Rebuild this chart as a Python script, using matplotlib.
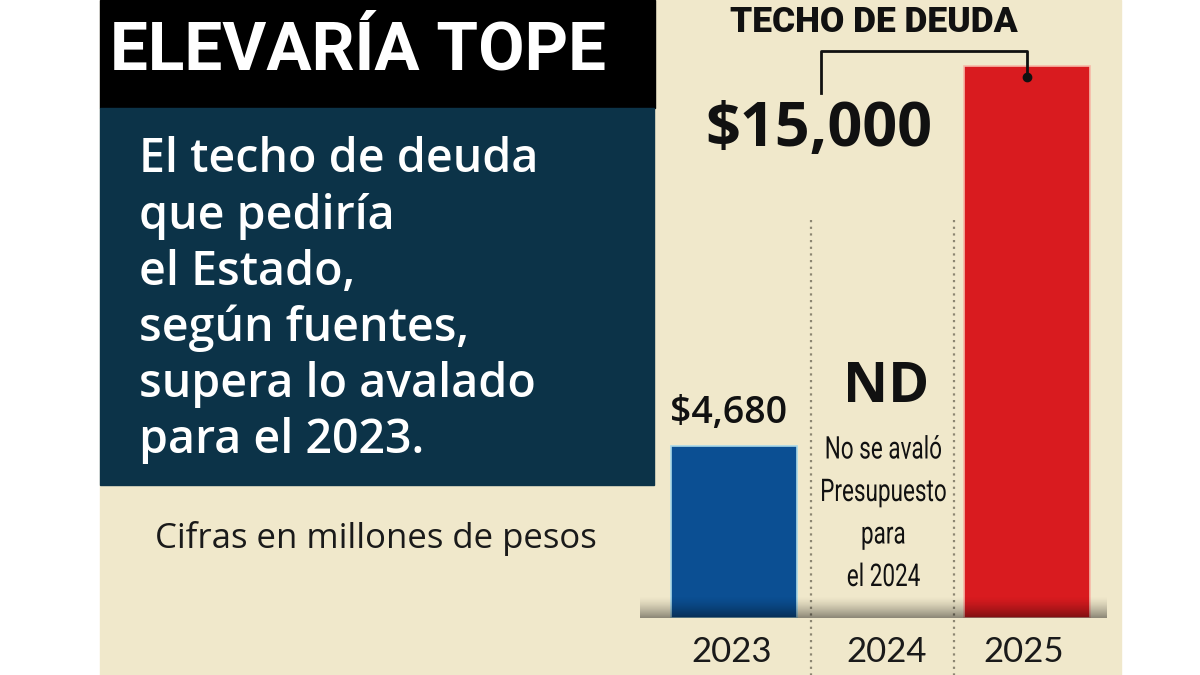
import numpy as np
import matplotlib
matplotlib.use('Agg')
import matplotlib.pyplot as plt
from matplotlib.patches import Rectangle
import matplotlib.transforms as mtransforms
from matplotlib import patheffects

# Data (millones de pesos)
years = ['2023', '2024', '2025']
values = [4680, np.nan, 15000]
value_labels = ['$4,680', '', '$15,000']
bar_colors = ['#0b4f93', '#ffffff', '#d91b1f']

title = 'ELEVARÍA TOPE'
body_lines = ['El techo de deuda', 'que pediría', 'el Estado,',
              'según fuentes,', 'supera lo avalado', 'para el 2023.']
note_lines = ['No se avaló', 'Presupuesto', 'para', 'el 2024']
units = 'Cifras en millones de pesos'

beige = '#f0e8cb'
teal = '#0c3348'
W, H = 1200, 675


class Squeeze(patheffects.AbstractPathEffect):
    """Narrow the glyphs horizontally (condensed look)."""
    def __init__(self, sx):
        super().__init__()
        self.sx = sx

    def draw_path(self, renderer, gc, tpath, affine, rgbFace=None):
        verts = affine.transform(tpath.vertices)
        cx = (verts[:, 0].min() + verts[:, 0].max()) / 2
        aff = affine + mtransforms.Affine2D().translate(-cx, 0).scale(self.sx, 1).translate(cx, 0)
        renderer.draw_path(gc, tpath, aff, rgbFace)


fig = plt.figure(figsize=(12, 6.75), dpi=100, facecolor='white')

# background / decoration axes in pixel coords
bg = fig.add_axes([0, 0, 1, 1])
bg.set_xlim(0, W)
bg.set_ylim(H, 0)
bg.axis('off')
bg.add_patch(Rectangle((100, 0), 1021, H, color=beige, zorder=0))
bg.add_patch(Rectangle((100, 0), 555, 108, color='black', zorder=1))
bg.add_patch(Rectangle((100, 108), 554, 377, color=teal, zorder=1))

bg.text(110, 52, title, color='white', fontsize=48.5, fontweight='bold',
        family=['Roboto', 'DejaVu Sans'], va='center', ha='left')
for i, line in enumerate(body_lines):
    bg.text(139, 160 + i * 56.2, line, color='white', fontsize=33.5,
            fontweight='semibold', family=['Open Sans', 'DejaVu Sans'],
            va='center', ha='left')
bg.text(155, 538, units, color='#1a1a1a', fontsize=25,
        family=['Open Sans', 'DejaVu Sans'], va='center', ha='left')

# bar axes: baseline at y=618px, 15000 at y=66px
base_px, top_px = 618, 66
scale = 15000 / (base_px - top_px)
ax = fig.add_axes([640 / W, (H - base_px) / H, (1107 - 640) / W, base_px / H])
ax.patch.set_alpha(0)
for s in ax.spines.values():
    s.set_visible(False)
ax.set_xticks([])
ax.set_yticks([])
ax.set_xlim(-0.647, 2.551)
ax.set_ylim(0, base_px * scale)

x = np.arange(len(years))
heights = np.nan_to_num(values)
edge = ['#a9d8e8', 'none', '#f7b9a8']
for xi, h, c, e in zip(x, heights, bar_colors, edge):
    if h > 0:
        ax.bar(xi, h, width=0.863, color=c, edgecolor=e, linewidth=1.2, zorder=2)

# shaded baseline band (cylinder look)
grad = np.zeros((50, 2, 4))
alpha = np.linspace(0, 1, 50) ** 1.4 * 0.42
grad[:, :, 3] = alpha[::-1, None]
ax.imshow(grad, extent=(-0.647, 2.551, 0, 22 * scale), aspect='auto',
          origin='lower', zorder=3, interpolation='bilinear')

# dotted separators between categories
for d in (x[:-1] + 0.5):
    xd = d + (0.025 if d < 1 else 0)
    ax.plot([xd, xd], [(base_px - 220) * scale, -57 * scale], ls=(0, (1, 2)),
            color='#8c8672', lw=1.6, clip_on=False, zorder=1)

# year labels
trans = mtransforms.blended_transform_factory(ax.transData, ax.transAxes)
year_shift = [-0.02, 0.04, -0.02]
for xi, yr, sh in zip(x, years, year_shift):
    ax.text(xi + sh, -34 / base_px, yr, transform=trans, ha='center', va='center',
            fontsize=25, color='#1a1a1a', family=['Lato', 'DejaVu Sans'])

# value label on 2023 bar
ax.annotate(value_labels[0], (x[0], heights[0]), xytext=(-6, 33),
            textcoords='offset pixels', ha='center', va='center',
            fontsize=27, fontweight='semibold', color='#111111',
            family=['Open Sans', 'DejaVu Sans'])

# ND note for 2024
ax.annotate('ND', (x[1], 0), xytext=(6, base_px - 388),
            textcoords='offset pixels', ha='center', va='center',
            fontsize=40, fontweight='bold', color='#111111',
            family=['Open Sans', 'DejaVu Sans'])
for i, line in enumerate(note_lines):
    ax.annotate(line, (x[1], 0), xytext=(3, base_px - (450 + i * 42.5)),
                textcoords='offset pixels', ha='center', va='center',
                fontsize=22.5, color='#111111', family=['Roboto', 'DejaVu Sans'],
                path_effects=[Squeeze(0.72)])

# TECHO DE DEUDA bracket for 2025
dot_y = heights[2] - 11 * scale
ax.plot([x[2]], [dot_y], 'o', color='#111111', ms=6, zorder=5)
bx_left = (821 - 640) / 146 - 0.647
ax.plot([x[2], x[2], bx_left, bx_left],
        [dot_y, (base_px - 51) * scale, (base_px - 51) * scale, (base_px - 93) * scale],
        color='#111111', lw=2, zorder=5, clip_on=False)
bg.text(874, 22, 'TECHO DE DEUDA', color='#111111', fontsize=25.5,
        fontweight='heavy', family=['Roboto', 'DejaVu Sans'], ha='center', va='center')
bg.text(819, 130, value_labels[2], color='#111111', fontsize=44,
        fontweight='bold', family=['Open Sans', 'DejaVu Sans'], ha='center', va='center')

fig.savefig('out.png', dpi=100, facecolor='white')
